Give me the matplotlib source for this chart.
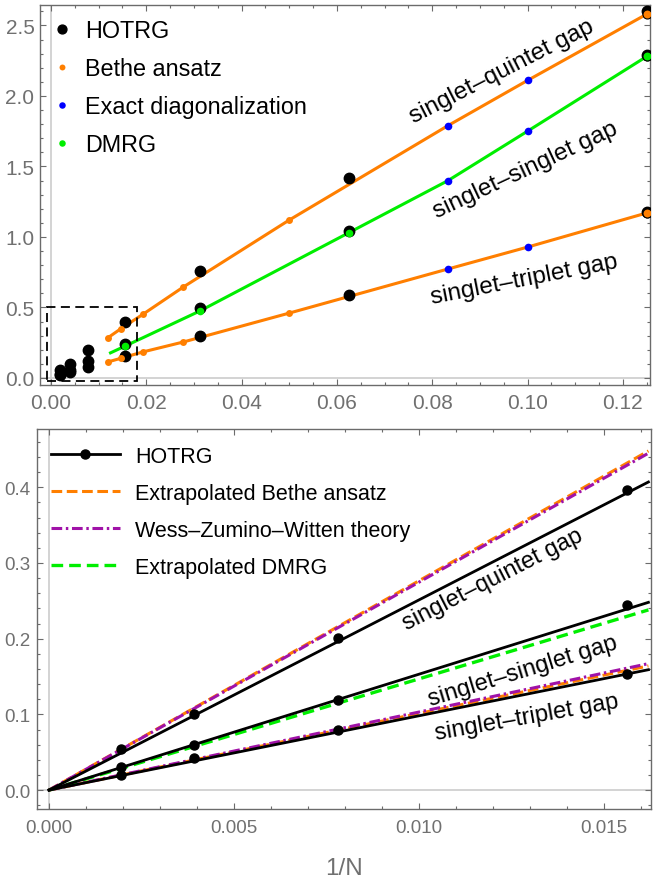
import numpy as np
import matplotlib
matplotlib.use("Agg")
import matplotlib.pyplot as plt
from matplotlib.patches import Rectangle
from matplotlib.ticker import MultipleLocator, FormatStrFormatter

plt.rcParams['font.family'] = ['Liberation Sans', 'DejaVu Sans']

# ---- data ----
N_hotrg = np.array([8, 16, 32, 64, 128, 256, 512])
hotrg_quintet = [2.60, 1.42, 0.76, 0.396, 0.201, 0.101, 0.054]
hotrg_singlet = [2.29, 1.04, 0.497, 0.244, 0.119, 0.059, 0.030]
hotrg_triplet = [1.18, 0.589, 0.298, 0.153, 0.079, 0.042, 0.020]

N_bethe = np.array([84, 68, 52, 36, 20, 8])
bethe_quintet = [0.284, 0.35, 0.45, 0.645, 1.12, 2.58]
bethe_triplet = [0.113, 0.14, 0.184, 0.255, 0.46, 1.17]

N_ed = np.array([12, 10])
ed_quintet = [1.79, 2.11]
ed_singlet = [1.40, 1.75]
ed_triplet = [0.773, 0.928]

N_dmrg = np.array([64, 32, 16, 8])
dmrg_singlet = [0.227, 0.475, 1.03, 2.28]
# green guide line starts a bit left of the first DMRG point
dmrg_line_N0 = 80
dmrg_line_y0 = 0.178

# zoomed region shown in the lower panel
box_x = (-0.0008, 0.018)
box_y = (-0.02, 0.50)

# lower panel: fits / extrapolations, given at 1/N = 0 and at the right edge
fit_x = [0.0, 0.0162]
hotrg_fit_quintet = [0.0, 0.407]
hotrg_fit_singlet = [0.0, 0.248]
hotrg_fit_triplet = [0.0, 0.159]
bethe_ext_quintet = [0.0, 0.448]
bethe_ext_triplet = [0.0, 0.164]
wzw_quintet = [0.0, 0.445]
wzw_triplet = [0.0, 0.167]
dmrg_ext_singlet = [0.0, 0.238]

ORANGE = '#ff7f00'
GREEN = '#00ee00'
BLUE = '#0000ff'
PURPLE = '#a012a8'
FRAME = '#6b6b6b'
TICKTXT = '#707070'

fig = plt.figure(figsize=(6.53, 8.78), dpi=100)
ax1 = fig.add_axes([40/653, 1-386/878, 610/653, 380/878])
ax2 = fig.add_axes([37/653, 1-810/878, 614/653, 380/878])


def style(ax, fs):
    for s in ax.spines.values():
        s.set_color(FRAME)
        s.set_linewidth(1.0)
    ax.tick_params(which='both', direction='in', top=True, right=True,
                   color=FRAME, width=0.8, labelcolor=TICKTXT, labelsize=fs)
    ax.tick_params(which='major', length=4.5)
    ax.tick_params(which='minor', length=2.5)
    ax.axvline(0, color='#cccccc', lw=1.2, zorder=0)
    ax.axhline(0, color='#cccccc', lw=1.2, zorder=0)


# ---------------- top panel ----------------
style(ax1, 15)
x_h = 1 / N_hotrg
x_b = 1 / N_bethe
x_e = 1 / N_ed
x_d = 1 / N_dmrg

# guide lines joining Bethe ansatz + ED points, and DMRG + ED points
for yb, ye in [(bethe_quintet, ed_quintet), (bethe_triplet, ed_triplet)]:
    xx = np.concatenate([x_b, x_e])
    yy = np.concatenate([yb, ye])
    o = np.argsort(xx)
    ax1.plot(xx[o], yy[o], color=ORANGE, lw=2.2, zorder=2)
xx = np.concatenate([[1 / dmrg_line_N0], x_d, x_e])
yy = np.concatenate([[dmrg_line_y0], dmrg_singlet, ed_singlet])
o = np.argsort(xx)
ax1.plot(xx[o], yy[o], color=GREEN, lw=2.2, zorder=2)

for y in (hotrg_quintet, hotrg_singlet, hotrg_triplet):
    ax1.plot(x_h, y, 'o', color='black', ms=7.5, zorder=3,
             label='HOTRG' if y is hotrg_quintet else None)

for y in (bethe_quintet, bethe_triplet):
    ax1.plot(x_b[:-1], y[:-1], 'o', color=ORANGE, ms=5, mew=0, zorder=4,
             label='Bethe ansatz' if y is bethe_quintet else None)
    ax1.plot(x_b[-1:], y[-1:], 'o', color=ORANGE, ms=6.5, mec='black',
             mew=0.8, zorder=4)
for y in (ed_quintet, ed_singlet, ed_triplet):
    ax1.plot(x_e, y, 'o', color=BLUE, ms=5.5, mew=0, zorder=4,
             label='Exact diagonalization' if y is ed_quintet else None)
ax1.plot(x_d[:-1], dmrg_singlet[:-1], 'o', color=GREEN, ms=5.5, mew=0,
         zorder=4, label='DMRG')
ax1.plot(x_d[-1:], dmrg_singlet[-1:], 'o', color=GREEN, ms=6.5, mec='black',
         mew=0.8, zorder=4)

ax1.add_patch(Rectangle((box_x[0], box_y[0]), box_x[1]-box_x[0],
                        box_y[1]-box_y[0], fill=False, ec='black', lw=1.3,
                        ls=(0, (5, 3)), zorder=5))

ax1.set_xlim(-0.0023, 0.1257)
ax1.set_ylim(-0.05, 2.645)
ax1.xaxis.set_major_locator(MultipleLocator(0.02))
ax1.xaxis.set_minor_locator(MultipleLocator(0.005))
ax1.yaxis.set_major_locator(MultipleLocator(0.5))
ax1.yaxis.set_minor_locator(MultipleLocator(0.1))
ax1.xaxis.set_major_formatter(FormatStrFormatter('%.2f'))
ax1.yaxis.set_major_formatter(FormatStrFormatter('%.1f'))
ax1.tick_params(axis='x', pad=6)
ax1.tick_params(axis='y', pad=4)

ax1.text(0.0946, 2.18, 'singlet\u2013quintet gap', rotation=27,
         ha='center', va='center', fontsize=17.5)
ax1.text(0.0996, 1.48, 'singlet\u2013singlet gap', rotation=25,
         ha='center', va='center', fontsize=17.5)
ax1.text(0.0993, 0.70, 'singlet\u2013triplet gap', rotation=11,
         ha='center', va='center', fontsize=17.5)

ax1.legend(loc='upper left', bbox_to_anchor=(0.017, 0.962), frameon=False,
           fontsize=16.8, handlelength=1.0, handletextpad=0.5,
           labelspacing=0.64, borderpad=0, borderaxespad=0, numpoints=1,
           markerscale=0.85)

# ---------------- bottom panel ----------------
style(ax2, 13.5)
ax2.plot(fit_x, bethe_ext_quintet, color=ORANGE, lw=2.2, dashes=(3.5, 1.5),
         label='Extrapolated Bethe ansatz', zorder=2)
ax2.plot(fit_x, bethe_ext_triplet, color=ORANGE, lw=2.2, dashes=(3.5, 1.5),
         zorder=2)
ax2.plot(fit_x, wzw_quintet, color=PURPLE, lw=2.2,
         dashes=(3.5, 1.2, 0.8, 1.2), label='Wess\u2013Zumino\u2013Witten theory',
         zorder=2)
ax2.plot(fit_x, wzw_triplet, color=PURPLE, lw=2.2,
         dashes=(3.5, 1.2, 0.8, 1.2), zorder=2)
ax2.plot(fit_x, dmrg_ext_singlet, color=GREEN, lw=2.4, dashes=(3.5, 1.8),
         label='Extrapolated DMRG', zorder=2)

mask = x_h < 0.0162
for yf in (hotrg_fit_quintet, hotrg_fit_singlet, hotrg_fit_triplet):
    ax2.plot(fit_x, yf, color='black', lw=2.0, zorder=3)
for y in (hotrg_quintet, hotrg_singlet, hotrg_triplet):
    ax2.plot(x_h[mask], np.array(y)[mask], 'o', color='black', ms=6.5,
             zorder=4)
ax2.plot([], [], '-o', color='black', lw=2.0, ms=6.5, label='HOTRG')

ax2.set_xlim(-0.000325, 0.01627)
ax2.set_ylim(-0.025, 0.477)
ax2.xaxis.set_major_locator(MultipleLocator(0.005))
ax2.xaxis.set_minor_locator(MultipleLocator(0.001))
ax2.yaxis.set_major_locator(MultipleLocator(0.1))
ax2.yaxis.set_minor_locator(MultipleLocator(0.02))
ax2.xaxis.set_major_formatter(FormatStrFormatter('%.3f'))
ax2.yaxis.set_major_formatter(FormatStrFormatter('%.1f'))
ax2.tick_params(axis='x', pad=7)
ax2.tick_params(axis='y', pad=5)
ax2.set_xlabel('1/N', fontsize=17.5, color=TICKTXT, labelpad=15)

ax2.text(0.0120, 0.279, 'singlet\u2013quintet gap', rotation=27,
         ha='center', va='center', fontsize=17)
ax2.text(0.0128, 0.157, 'singlet\u2013singlet gap', rotation=17,
         ha='center', va='center', fontsize=17)
ax2.text(0.01290, 0.096, 'singlet\u2013triplet gap', rotation=10,
         ha='center', va='center', fontsize=17)

h, l = ax2.get_legend_handles_labels()
order = [l.index('HOTRG'), l.index('Extrapolated Bethe ansatz'),
         l.index('Wess\u2013Zumino\u2013Witten theory'), l.index('Extrapolated DMRG')]
ax2.legend([h[k] for k in order], [l[k] for k in order], loc='upper left',
           bbox_to_anchor=(0.0228, 0.956), frameon=False, fontsize=15.5,
           handlelength=3.2, handletextpad=0.7, labelspacing=0.74,
           borderpad=0, borderaxespad=0, numpoints=1)

fig.savefig('out.png', dpi=100)
